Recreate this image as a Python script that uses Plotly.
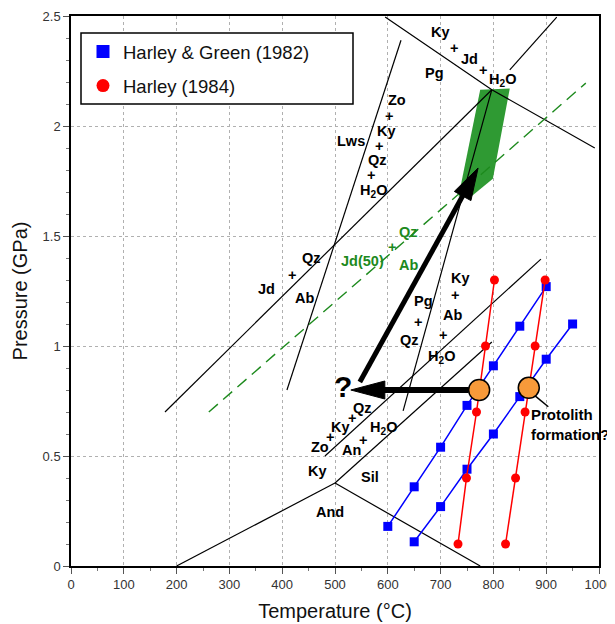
import numpy as np
import plotly.graph_objects as go

# ---------------- data ----------------
# Harley & Green (1982) isopleths (blue squares)
hg_a_T = [600, 650, 700, 750, 800, 850, 900]
hg_a_P = [0.18, 0.36, 0.54, 0.73, 0.91, 1.09, 1.27]
hg_b_T = [650, 700, 750, 800, 850, 900, 950]
hg_b_P = [0.11, 0.27, 0.44, 0.60, 0.77, 0.94, 1.10]
# Harley (1984) isopleths (red circles)
h_c_T = [733, 749, 768, 785, 802]
h_c_P = [0.10, 0.40, 0.70, 1.00, 1.30]
h_d_T = [823, 842, 860, 879, 898]
h_d_P = [0.10, 0.40, 0.70, 1.00, 1.30]

# reaction curves
junction = (797, 2.165)
jd_qz_ab_T = [178, junction[0], None, 831, 920]
jd_qz_ab_P = [0.70, junction[1], None, 2.255, 2.495]
pg_T = [595, junction[0], 992]
pg_P = [2.495, junction[1], 1.90]
pg_kyab_T = [junction[0], 629]
pg_kyab_P = [junction[1], 0.705]
lws_T = [625, 409]
lws_P = [2.39, 0.80]
zo_T = [481, 890]
zo_P = [0.50, 1.395]
ky_sil_T = [500, 797]
ky_sil_P = [0.377, 1.018]
and_ky_T = [200, 500]
and_ky_P = [0.0, 0.377]
and_sil_T = [500, 775]
and_sil_P = [0.377, 0.0]
jd50_T = [261, 975]
jd50_P = [0.70, 2.195]

# peak P-T field (green)
field_T = [775, 831, 799, 758, 734, 775]
field_P = [2.165, 2.17, 1.76, 1.68, 1.68, 2.165]

# protolith formation estimates
proto_T = [773, 867]
proto_P = [0.80, 0.81]

# arrows (start -> end)
arrow_up = ((547, 0.836), (771, 1.809))
arrow_left = ((773, 0.80), (530, 0.80))
pointer = ((879, 0.773), (904, 0.724))

# text labels
labels = ["Ky", "+", "Jd", "+", "H<sub>2</sub>O", "Pg",
          "Zo", "+", "Ky", "+", "Qz", "+", "H<sub>2</sub>O", "Lws",
          "Qz", "+", "Jd", "Ab",
          "Ky", "+", "Ab", "+", "H<sub>2</sub>O", "Pg", "+", "Qz",
          "Qz", "+", "Ky", "+", "Zo", "H<sub>2</sub>O", "+", "An",
          "Ky", "Sil", "And"]
label_T = [699, 725, 754, 780, 818, 688,
           617, 602, 597, 583, 580, 568, 572, 530,
           455, 419, 371, 443,
           737, 727, 722, 705, 701, 667, 657, 642,
           553, 532, 510, 491, 472, 591, 553, 532,
           466, 566, 491]
label_P = [2.427, 2.355, 2.305, 2.255, 2.209, 2.241,
           2.118, 2.045, 1.977, 1.909, 1.845, 1.777, 1.705, 1.932,
           1.40, 1.323, 1.259, 1.218,
           1.309, 1.232, 1.141, 1.05, 0.95, 1.205, 1.109, 1.027,
           0.718, 0.673, 0.632, 0.586, 0.541, 0.627, 0.573, 0.527,
           0.432, 0.405, 0.245]
green_labels = ["Qz", "+", "Jd(50)", "Ab"]
green_T = [640, 608, 553, 640]
green_P = [1.518, 1.45, 1.386, 1.368]

x_ticks = [0, 100, 200, 300, 400, 500, 600, 700, 800, 900, 1000]
y_ticks = [0, 0.5, 1, 1.5, 2, 2.5]

# ---------------- figure ----------------
OFF = 8                      # page offset of the figure (body margin)
W, H = 615 - OFF, 624 - OFF
PL, PR, PT, PB = 71, 599, 16, 566   # plot area in page pixels
ML, MT = PL - OFF, PT - OFF
MR, MB = (W + OFF) - PR, (H + OFF) - PB
XR = (0, 1000)
YR = (0, 2.5)
PW = PR - PL
PH = PB - PT
sx = PW / (XR[1] - XR[0])   # px per degC
sy = PH / (YR[1] - YR[0])   # px per GPa

FONT = "Arial, Liberation Sans, sans-serif"
GREEN_FILL = "#2f9a33"
GREEN_LINE = "#1d8a1d"
BLACK = "#000000"
CIRCLE_SIZE = 21
LABEL_SIZE = 14.5

fig = go.Figure()

fig.add_trace(go.Scatter(x=field_T, y=field_P, mode="lines", fill="toself",
                         fillcolor=GREEN_FILL, line=dict(width=0, color=GREEN_FILL),
                         showlegend=False, hoverinfo="skip"))

def rxn(T, P, color=BLACK, width=1.2, dash=None):
    fig.add_trace(go.Scatter(x=T, y=P, mode="lines",
                             line=dict(color=color, width=width, dash=dash),
                             showlegend=False, hoverinfo="skip", connectgaps=False))

rxn(jd_qz_ab_T, jd_qz_ab_P)
rxn(pg_T, pg_P)
rxn(pg_kyab_T, pg_kyab_P)
rxn(lws_T, lws_P)
rxn(zo_T, zo_P)
rxn(ky_sil_T, ky_sil_P)
rxn(and_ky_T, and_ky_P)
rxn(and_sil_T, and_sil_P)
rxn(jd50_T, jd50_P, color=GREEN_LINE, width=1.4, dash="12px,7px")

BLUE = "#0000ff"
RED = "#ff0000"
for T, P in [(hg_a_T, hg_a_P), (hg_b_T, hg_b_P)]:
    fig.add_trace(go.Scatter(x=T, y=P, mode="lines+markers",
                             line=dict(color=BLUE, width=1.5),
                             marker=dict(symbol="square", size=9, color=BLUE),
                             showlegend=False))
for T, P in [(h_c_T, h_c_P), (h_d_T, h_d_P)]:
    fig.add_trace(go.Scatter(x=T, y=P, mode="lines+markers",
                             line=dict(color=RED, width=1.5),
                             marker=dict(symbol="circle", size=9, color=RED),
                             showlegend=False))

# legend entries
fig.add_trace(go.Scatter(x=[None], y=[None], mode="markers", name="Harley & Green (1982)",
                         marker=dict(symbol="square", size=13, color=BLUE), legendgroup="a"))
fig.add_trace(go.Scatter(x=[None], y=[None], mode="markers", name="Harley (1984)",
                         marker=dict(symbol="circle", size=13, color=RED), legendgroup="b"))

shapes = []

def arrow(start, end, width, head_len, head_half, start_gap=0.0):
    (T0, P0), (T1, P1) = start, end
    dx, dy = (T1 - T0) * sx, (P1 - P0) * sy
    L = np.hypot(dx, dy)
    ux, uy = dx / L, dy / L
    nx, ny = -uy, ux
    s0 = (T0 + start_gap * ux / sx, P0 + start_gap * uy / sy)
    bx, by = -head_len * ux, -head_len * uy
    base = (T1 + bx / sx, P1 + by / sy)
    c1 = (T1 + (bx + head_half * nx) / sx, P1 + (by + head_half * ny) / sy)
    c2 = (T1 + (bx - head_half * nx) / sx, P1 + (by - head_half * ny) / sy)
    shapes.append(dict(type="line", xref="x", yref="y", x0=s0[0], y0=s0[1],
                       x1=base[0] + 2 * ux / sx, y1=base[1] + 2 * uy / sy,
                       line=dict(color=BLACK, width=width), layer="above"))
    path = f"M{T1},{P1} L{c1[0]},{c1[1]} L{c2[0]},{c2[1]} Z"
    shapes.append(dict(type="path", xref="x", yref="y", path=path,
                       fillcolor=BLACK, line=dict(color=BLACK, width=1), layer="above"))

arrow(*arrow_up, width=5, head_len=32, head_half=9.5)
arrow(*arrow_left, width=6, head_len=34, head_half=9, start_gap=CIRCLE_SIZE / 2)

shapes.append(dict(type="line", xref="x", yref="y",
                   x0=pointer[0][0], y0=pointer[0][1], x1=pointer[1][0], y1=pointer[1][1],
                   line=dict(color=BLACK, width=1.5), layer="between"))

# legend frame (page-pixel box converted to paper coords)
lg_box = (81, 33, 353, 104)
shapes.append(dict(type="rect", xref="paper", yref="paper",
                   x0=(lg_box[0] - PL) / PW, x1=(lg_box[2] - PL) / PW,
                   y0=(PB - lg_box[3]) / PH, y1=(PB - lg_box[1]) / PH,
                   fillcolor="white", line=dict(color=BLACK, width=1.5), layer="above"))

fig.add_trace(go.Scatter(x=proto_T, y=proto_P, mode="markers",
                         marker=dict(symbol="circle", size=CIRCLE_SIZE, color="#f79a3a",
                                     line=dict(color=BLACK, width=1.5)),
                         showlegend=False, hoverinfo="skip"))

annotations = []
for t, x, y in zip(labels, label_T, label_P):
    annotations.append(dict(x=x, y=y, text=t, showarrow=False,
                            font=dict(family=FONT, size=LABEL_SIZE, color=BLACK, weight="bold")))
for t, x, y in zip(green_labels, green_T, green_P):
    annotations.append(dict(x=x, y=y, text=t, showarrow=False,
                            font=dict(family=FONT, size=LABEL_SIZE, color=GREEN_LINE, weight="bold")))
annotations.append(dict(x=515, y=0.818, text="?", showarrow=False,
                        font=dict(family=FONT, size=30, color=BLACK, weight="bold")))
annotations.append(dict(x=868, y=0.645, text="Protolith<br>formation?", showarrow=False,
                        xanchor="left", align="left",
                        font=dict(family=FONT, size=15, color=BLACK, weight="bold")))

fig.update_layout(
    width=W, height=H,
    margin=dict(l=ML, r=MR, t=MT, b=MB, autoexpand=False),
    paper_bgcolor="white", plot_bgcolor="white",
    font=dict(family=FONT, color="#222"),
    shapes=shapes, annotations=annotations,
    showlegend=True,
    legend=dict(x=(lg_box[0] + 2 - PL) / PW, y=(PB - lg_box[1]) / PH,
                xanchor="left", yanchor="top",
                bgcolor="rgba(0,0,0,0)", borderwidth=0,
                font=dict(family=FONT, size=18.5, color="#111"),
                tracegroupgap=7),
)
fig.update_xaxes(range=list(XR), tickvals=x_ticks, ticks="outside", ticklen=6,
                 tickcolor="#555", showline=True, linecolor=BLACK, linewidth=1.5, mirror=True,
                 showgrid=True, gridcolor="#b0b0b0", griddash="dot", gridwidth=1,
                 zeroline=False, tickfont=dict(size=13, color="#333"), automargin=False,
                 minor=dict(dtick=50, ticks="outside", ticklen=3, tickcolor="#777", showgrid=False),
                 title=dict(text="Temperature (°C)", font=dict(size=20, color="#111"), standoff=13))
fig.update_yaxes(range=list(YR), tickvals=y_ticks, ticks="outside", ticklen=6,
                 tickcolor="#555", showline=True, linecolor=BLACK, linewidth=1.5, mirror=True,
                 showgrid=True, gridcolor="#b0b0b0", griddash="dot", gridwidth=1,
                 zeroline=False, tickfont=dict(size=13, color="#333"), automargin=False,
                 minor=dict(dtick=0.1, ticks="outside", ticklen=3, tickcolor="#777", showgrid=False),
                 title=dict(text="Pressure (GPa)", font=dict(size=20, color="#111"), standoff=10))

fig.write_html("out.html")
